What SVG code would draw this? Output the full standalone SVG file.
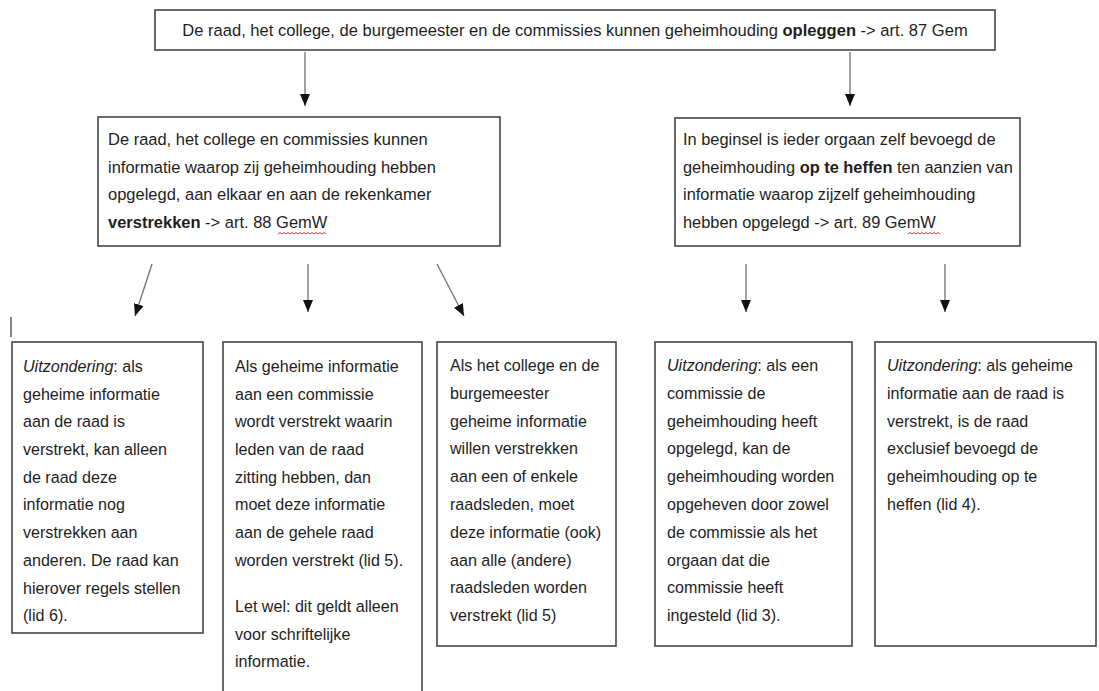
<svg xmlns="http://www.w3.org/2000/svg" width="1099" height="691" viewBox="0 0 1099 691">
<style>
.box{fill:#fff;stroke:#3a3a3a;stroke-width:1.5}
.t{font-family:"Liberation Sans",Arial,sans-serif;font-size:17px;fill:#1e1e1e}
.b{font-weight:bold}
.i{font-style:italic}
.con{stroke:#707070;stroke-width:1.3;fill:none}
.sq{stroke:#d02020;stroke-width:0.9;fill:none}
</style>
<defs>
<marker id="ah" viewBox="0 0 12 10" refX="12" refY="5" markerWidth="12" markerHeight="10" markerUnits="userSpaceOnUse" orient="auto">
<path d="M0,0 L12,5 L0,10 z" fill="#111"/>
</marker>
</defs>
<rect width="1099" height="691" fill="#fff"/>

<g id="connectors">
<line class="con" x1="305" y1="52" x2="305" y2="106" marker-end="url(#ah)"/>
<line class="con" x1="850" y1="52" x2="850" y2="106" marker-end="url(#ah)"/>
<line class="con" x1="152" y1="264" x2="135" y2="316" marker-end="url(#ah)"/>
<line class="con" x1="308" y1="264" x2="308" y2="312" marker-end="url(#ah)"/>
<line class="con" x1="437" y1="264" x2="464" y2="316" marker-end="url(#ah)"/>
<line class="con" x1="746" y1="264" x2="746" y2="312" marker-end="url(#ah)"/>
<line class="con" x1="945" y1="264" x2="945" y2="312" marker-end="url(#ah)"/>
</g>

<line x1="11" y1="317" x2="11" y2="337" stroke="#444" stroke-width="1.3"/>

<g id="top">
<rect class="box" x="155" y="10" width="840" height="40"/>
<text class="t" transform="translate(575,0) scale(0.973,1)" text-anchor="middle" x="0" y="36">De raad, het college, de burgemeester en de commissies kunnen geheimhouding <tspan class="b">opleggen</tspan> -&gt; art. 87 Gem</text>
</g>

<g id="mid-left">
<rect class="box" x="98" y="117" width="402" height="129"/>
<text class="t" transform="translate(108,0) scale(0.97,1)">
<tspan x="0" y="145">De raad, het college en commissies kunnen</tspan>
<tspan x="0" y="172.7">informatie waarop zij geheimhouding hebben</tspan>
<tspan x="0" y="200.3">opgelegd, aan elkaar en aan de rekenkamer</tspan>
<tspan x="0" y="228"><tspan class="b">verstrekken</tspan> -&gt; art. 88 GemW</tspan>
</text>
<path class="sq" d="M278,234 l2,-1.5 l2,1.5 l2,-1.5 l2,1.5 l2,-1.5 l2,1.5 l2,-1.5 l2,1.5 l2,-1.5 l2,1.5 l2,-1.5 l2,1.5 l2,-1.5 l2,1.5 l2,-1.5 l2,1.5 l2,-1.5 l2,1.5 l2,-1.5 l2,1.5 l2,-1.5 l2,1.5 l2,-1.5 l2,1.5"/>
</g>

<g id="mid-right">
<rect class="box" x="675" y="118" width="345" height="128"/>
<text class="t" transform="translate(683,0) scale(0.965,1)">
<tspan x="0" y="145">In beginsel is ieder orgaan zelf bevoegd de</tspan>
<tspan x="0" y="172.7">geheimhouding <tspan class="b">op te heffen</tspan> ten aanzien van</tspan>
<tspan x="0" y="200.3">informatie waarop zijzelf geheimhouding</tspan>
<tspan x="0" y="228">hebben opgelegd -&gt; art. 89 GemW</tspan>
</text>
<path class="sq" d="M908,234 l2,-1.5 l2,1.5 l2,-1.5 l2,1.5 l2,-1.5 l2,1.5 l2,-1.5 l2,1.5 l2,-1.5 l2,1.5 l2,-1.5 l2,1.5 l2,-1.5 l2,1.5 l2,-1.5 l2,1.5"/>
</g>

<g id="box1">
<rect class="box" x="12" y="342" width="191" height="291"/>
<text class="t" transform="translate(23,0) scale(0.947,1)">
<tspan x="0" y="372"><tspan class="i">Uitzondering</tspan>: als</tspan>
<tspan x="0" y="399.7">geheime informatie</tspan>
<tspan x="0" y="427.4">aan de raad is</tspan>
<tspan x="0" y="455.1">verstrekt, kan alleen</tspan>
<tspan x="0" y="482.8">de raad deze</tspan>
<tspan x="0" y="510.5">informatie nog</tspan>
<tspan x="0" y="538.2">verstrekken aan</tspan>
<tspan x="0" y="565.9">anderen. De raad kan</tspan>
<tspan x="0" y="593.6">hierover regels stellen</tspan>
<tspan x="0" y="621.3">(lid 6).</tspan>
</text>
</g>

<g id="box2">
<rect class="box" x="223" y="342" width="199" height="360"/>
<text class="t" transform="translate(235,0) scale(0.947,1)">
<tspan x="0" y="372">Als geheime informatie</tspan>
<tspan x="0" y="399.7">aan een commissie</tspan>
<tspan x="0" y="427.4">wordt verstrekt waarin</tspan>
<tspan x="0" y="455.1">leden van de raad</tspan>
<tspan x="0" y="482.8">zitting hebben, dan</tspan>
<tspan x="0" y="510.5">moet deze informatie</tspan>
<tspan x="0" y="538.2">aan de gehele raad</tspan>
<tspan x="0" y="565.9">worden verstrekt (lid 5).</tspan>
<tspan x="0" y="612">Let wel: dit geldt alleen</tspan>
<tspan x="0" y="639.7">voor schriftelijke</tspan>
<tspan x="0" y="667.4">informatie.</tspan>
</text>
</g>

<g id="box3">
<rect class="box" x="437" y="342" width="179" height="304"/>
<text class="t" transform="translate(450,0) scale(0.947,1)">
<tspan x="0" y="371">Als het college en de</tspan>
<tspan x="0" y="398.8">burgemeester</tspan>
<tspan x="0" y="426.6">geheime informatie</tspan>
<tspan x="0" y="454.4">willen verstrekken</tspan>
<tspan x="0" y="482.2">aan een of enkele</tspan>
<tspan x="0" y="510">raadsleden, moet</tspan>
<tspan x="0" y="537.8">deze informatie (ook)</tspan>
<tspan x="0" y="565.6">aan alle (andere)</tspan>
<tspan x="0" y="593.4">raadsleden worden</tspan>
<tspan x="0" y="621.2">verstrekt (lid 5)</tspan>
</text>
</g>

<g id="box4">
<rect class="box" x="655" y="342" width="197" height="304"/>
<text class="t" transform="translate(667,0) scale(0.947,1)">
<tspan x="0" y="371"><tspan class="i">Uitzondering</tspan>: als een</tspan>
<tspan x="0" y="398.8">commissie de</tspan>
<tspan x="0" y="426.6">geheimhouding heeft</tspan>
<tspan x="0" y="454.4">opgelegd, kan de</tspan>
<tspan x="0" y="482.2">geheimhouding worden</tspan>
<tspan x="0" y="510">opgeheven door zowel</tspan>
<tspan x="0" y="537.8">de commissie als het</tspan>
<tspan x="0" y="565.6">orgaan dat die</tspan>
<tspan x="0" y="593.4">commissie heeft</tspan>
<tspan x="0" y="621.2">ingesteld (lid 3).</tspan>
</text>
</g>

<g id="box5">
<rect class="box" x="875" y="342" width="221" height="304"/>
<text class="t" transform="translate(887,0) scale(0.947,1)">
<tspan x="0" y="371"><tspan class="i">Uitzondering</tspan>: als geheime</tspan>
<tspan x="0" y="398.8">informatie aan de raad is</tspan>
<tspan x="0" y="426.6">verstrekt, is de raad</tspan>
<tspan x="0" y="454.4">exclusief bevoegd de</tspan>
<tspan x="0" y="482.2">geheimhouding op te</tspan>
<tspan x="0" y="510">heffen (lid 4).</tspan>
</text>
</g>
</svg>
